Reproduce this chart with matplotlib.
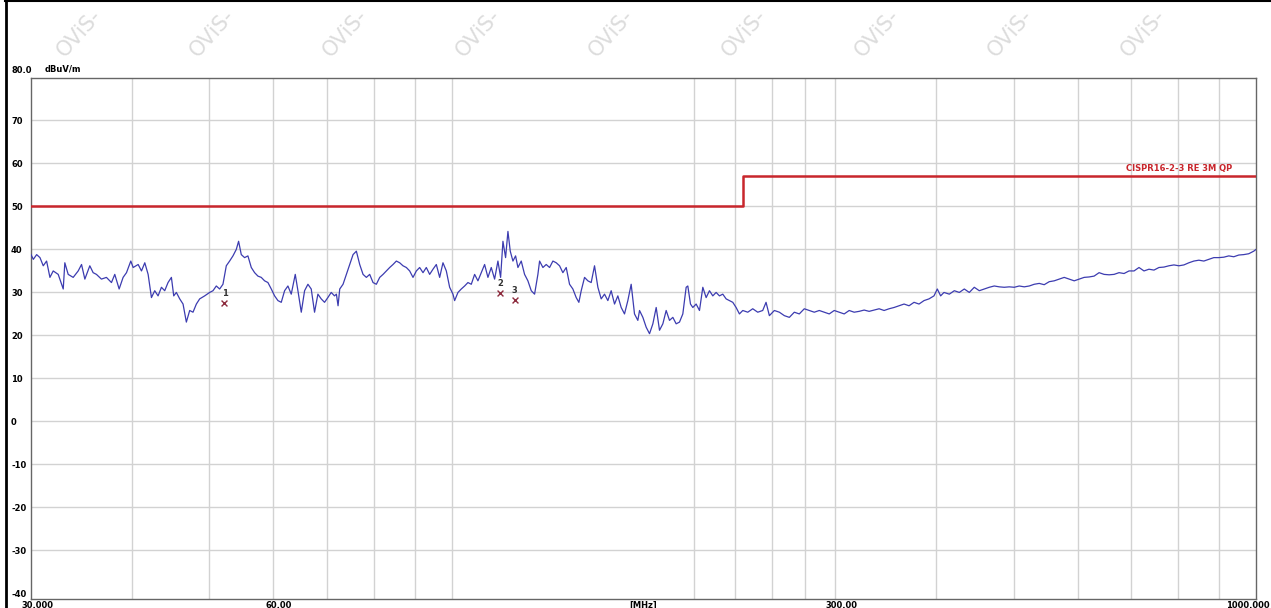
import numpy as np
import matplotlib.pyplot as plt
from matplotlib.lines import Line2D

freq_mhz = [
    30.0, 30.2, 30.49, 30.78, 31.07, 31.37, 31.67, 31.97, 32.43, 32.9,
    33.05, 33.37, 33.85, 34.34, 34.67, 35.0, 35.5, 35.84, 36.18, 36.7,
    37.23, 37.77, 38.13, 38.61, 39.05, 39.43, 39.92, 40.19, 40.77, 41.16,
    41.55, 41.95, 42.35, 42.75, 43.16, 43.58, 43.99, 44.41, 44.84, 45.14,
    45.48, 45.92, 46.36, 46.8, 47.25, 47.7, 48.16, 48.62, 49.32, 50.03,
    50.51, 50.99, 51.48, 51.97, 52.47, 52.97, 53.48, 53.99, 54.35, 54.77,
    55.29, 55.82, 56.36, 56.9, 57.44, 57.99, 58.55, 59.11, 59.68, 60.25,
    60.83, 61.41, 62.0, 62.59, 63.19, 63.92, 64.41, 65.03, 65.65, 66.28,
    66.91, 67.55, 68.2, 68.85, 69.51, 70.17, 70.85, 71.52,
    71.91, 72.25, 72.6, 73.29, 73.99, 74.7, 75.42, 76.14, 76.87, 77.61,
    78.35, 79.1, 79.86, 80.62, 81.4, 82.18, 82.96, 83.76, 84.56, 85.37,
    86.19, 87.01, 87.85, 88.69, 89.54, 90.4, 91.26, 92.14, 93.02, 93.91,
    94.81, 95.72, 96.64, 97.56, 98.5, 99.44, 100.39, 100.87, 101.84, 102.81,
    103.8, 104.79, 105.8, 106.81, 107.83, 108.87, 109.91, 110.96, 112.02, 113.1,
    114.18, 115.06, 115.83, 116.71, 117.5, 118.28, 119.19, 120.1, 120.91, 122.06,
    123.23, 124.41, 125.61, 126.81, 128.02, 128.64, 129.87, 131.11, 132.37, 133.64,
    134.92, 136.21, 137.51, 138.83, 140.16, 141.5, 142.86, 143.95, 144.92, 146.31,
    147.71, 149.12, 150.55, 152.0, 153.45, 154.92, 156.4, 157.9, 159.42, 160.94,
    162.49, 164.04, 165.61, 167.2, 168.8, 170.42,
    171.25, 172.89, 174.55, 176.22, 177.91, 179.61, 181.33, 183.07, 184.82, 186.59,
    188.38, 190.18, 192.0, 193.84, 195.7, 196.63, 198.14, 199.47, 201.38, 203.31,
    205.26, 207.22, 209.2, 211.21, 213.23, 215.27, 217.33, 219.42, 221.52, 223.64,
    225.78, 227.94, 230.13, 233.44, 236.79, 240.2, 243.65, 245.98, 248.34, 251.91,
    255.54, 259.21, 262.94, 266.72, 270.55, 274.44, 278.39, 282.4, 286.46, 290.58,
    294.76, 299.0, 303.29, 307.66, 312.08, 316.57, 321.12, 325.74, 330.42, 335.18,
    340.0, 344.88, 349.84, 354.87, 359.98, 365.15, 370.4, 375.73, 381.13, 386.61,
    392.17, 397.81, 401.62, 405.46, 409.34,
    415.66, 421.64, 427.72, 433.88, 440.13, 446.46, 452.91, 459.41, 466.04, 472.75,
    479.57, 486.46, 493.48, 500.57, 507.79, 515.09, 522.53, 530.03, 537.69, 545.4,
    553.29, 561.24, 569.34, 577.54, 585.85, 594.3, 602.76, 611.42, 620.22, 629.14,
    638.18, 647.36, 656.67, 666.11, 675.69, 685.41, 695.27, 705.27, 715.41, 725.7,
    736.13, 746.72, 757.46, 768.35, 779.4, 790.61, 801.98, 813.51, 825.21, 837.08,
    849.11, 861.33, 873.71, 886.28, 899.02, 911.95, 925.06, 938.37, 951.86, 965.54,
    979.45, 993.53, 1000.0,
]
level_dbuv = [
    38.8, 37.7, 38.8, 38.1, 36.2, 37.3, 33.5, 35.0, 34.2, 30.8,
    36.9, 34.2, 33.5, 35.0, 36.5, 33.1, 36.2, 34.6, 34.2, 33.1,
    33.5, 32.3, 34.2, 30.8, 33.5, 34.6, 37.3, 35.8, 36.5, 35.0,
    36.9, 34.2, 28.8, 30.4, 29.2, 31.2, 30.4, 32.3, 33.5, 29.2,
    30.0, 28.5, 27.3, 23.1, 25.8, 25.4, 27.3, 28.5, 29.2, 30.0,
    30.4, 31.5, 30.8, 31.9, 36.2, 37.3, 38.5, 40.0, 41.9, 38.8,
    38.1, 38.5, 35.8, 34.6, 33.8, 33.5, 32.7, 32.3, 30.8, 29.2,
    28.1, 27.7, 30.4, 31.5, 29.6, 34.2, 30.4, 25.4, 30.4, 31.9,
    30.8, 25.4, 29.6, 28.5, 27.7, 28.8, 30.0, 29.2,
    29.6, 26.9, 30.8, 31.9, 34.2, 36.5, 38.8, 39.6, 36.5, 34.2,
    33.5, 34.2, 32.3, 31.9, 33.5, 34.2, 35.0, 35.8, 36.5, 37.3,
    36.9, 36.2, 35.8, 35.0, 33.5, 35.0, 35.8, 34.6, 35.8, 34.2,
    35.4, 36.5, 33.5, 36.9, 35.0, 31.2, 29.6, 28.1, 30.0, 30.8,
    31.5, 32.3, 31.9, 34.2, 32.7, 34.6, 36.5, 33.5, 35.8, 33.1,
    37.3, 33.5, 41.9, 38.1, 44.2, 39.6, 37.3, 38.5, 35.8, 37.3,
    34.2, 32.7, 30.4, 29.6, 34.2, 37.3, 35.8, 36.5, 35.8, 37.3,
    36.9, 36.2, 34.6, 35.8, 31.9, 30.8, 28.8, 27.7, 30.4, 33.5,
    32.7, 32.3, 36.2, 31.2, 28.5, 29.6, 28.1, 30.4, 27.3, 29.2,
    26.5, 25.0, 28.1, 31.9, 25.0, 23.5,
    25.8, 24.2, 21.9, 20.4, 22.7, 26.5, 21.2, 22.7, 25.8, 23.5,
    24.2, 22.7, 23.1, 25.0, 31.2, 31.5, 27.3, 26.5, 27.3, 25.8,
    31.2, 28.8, 30.4, 29.2, 30.0, 29.2, 29.6, 28.5, 28.1, 27.7,
    26.5, 25.0, 25.8, 25.4, 26.2, 25.4, 25.8, 27.7, 24.6, 25.8,
    25.4, 24.6, 24.2, 25.4, 25.0, 26.2, 25.8, 25.4, 25.8, 25.4,
    25.0, 25.8, 25.4, 25.0, 25.8, 25.4, 25.6, 25.9, 25.6, 25.9,
    26.2, 25.8, 26.2, 26.5, 26.9, 27.3, 26.9, 27.7, 27.3, 28.1,
    28.5, 29.2, 30.8, 29.2, 30.0,
    29.6, 30.4, 30.0, 30.8, 30.0, 31.2, 30.4, 30.8, 31.2, 31.5,
    31.3, 31.2, 31.3, 31.2, 31.5, 31.3, 31.5, 31.9, 32.1, 31.8,
    32.5, 32.7, 33.1, 33.5, 33.1, 32.7, 33.1, 33.5, 33.6, 33.8,
    34.6, 34.2, 34.1, 34.2, 34.6, 34.4, 35.0, 35.0, 35.8, 35.0,
    35.4, 35.2, 35.8, 35.9, 36.2, 36.4, 36.2, 36.4, 36.9, 37.3,
    37.5, 37.3, 37.7, 38.1, 38.1, 38.2, 38.5, 38.3, 38.7, 38.8,
    39.0, 39.6, 40.0,
]

#limit line CISPR16-2-3 RE 3M QP
limit_freq = [30, 230, 230, 1000]
limit_level = [50, 50, 57, 57]
limit_name = "CISPR16-2-3 RE 3M QP"

#peak markers
marker_ids = ["1", "2", "3"]
marker_freq = [52.2, 115.0, 119.8]
marker_level = [27.6, 29.9, 28.2]

#axis ticks
x_ticks = [30, 60, 300]
x_tick_labels = ["30.000", "60.00", "300.00"]
x_end_label = "1000.000"
x_grid = [40, 50, 60, 70, 80, 90, 100, 200, 225, 250, 275,
          300, 400, 500, 600, 700, 800, 900]
y_ticks = [-40, -30, -20, -10, 0, 10, 20, 30, 40, 50, 60, 70]

W, H = 1271, 608
font = dict(family=['Liberation Sans Narrow', 'DejaVu Sans'], size=6, weight='bold')

fig = plt.figure(figsize=(W / 100, H / 100), dpi=100)
fig.patch.set_facecolor('white')

#watermark along the top
for i in range(9):
    fig.text((65 + 133 * i) / W, 1 - 58 / H, "OViS-", rotation=48,
             rotation_mode='anchor', ha='left', va='baseline',
             fontsize=15, color='#dcdcdc', zorder=-1)

ax = fig.add_axes([31 / W, 1 - 598.5 / H, (1256 - 31) / W, (598.5 - 77.5) / H])
ax.set_xscale('log')
ax.set_xlim(30, 1000)
ax.set_ylim(-41.2, 80)

#grid
for f in x_grid:
    ax.axvline(f, color='#d2d2d2', lw=1, zorder=1)
for y in y_ticks[1:]:
    ax.axhline(y, color='#d2d2d2', lw=1, zorder=1)

#data
ax.plot(freq_mhz, level_dbuv, color='#3c3cb0', lw=0.9, zorder=3)
ax.plot(limit_freq, limit_level, color='#c8262c', lw=1.8, zorder=4)
ax.annotate(limit_name, xy=(0.981, 57), xycoords=ax.get_yaxis_transform(),
            xytext=(0, 3), textcoords='offset pixels', ha='right', va='bottom',
            color='#c8262c', **font)

ax.scatter(marker_freq, marker_level, marker='x', s=18, color='#8c2a3c',
           linewidths=1, zorder=5)
for mid, f, v in zip(marker_ids, marker_freq, marker_level):
    ax.annotate(mid, xy=(f, v), xytext=(0, 5), textcoords='offset pixels',
                ha='center', va='bottom', color='#333333', **font)

#ticks and labels
ax.set_xticks([])
ax.set_xticks([], minor=True)
ax.set_yticks(y_ticks)
ax.set_yticklabels([str(t) for t in y_ticks], ha='left', **font)
ax.tick_params(axis='y', length=0, pad=20 * 0.72)

for f, lab in zip(x_ticks, x_tick_labels):
    ax.annotate(lab, xy=(f, 0), xycoords=ax.get_xaxis_transform(),
                xytext=(6, -2), textcoords='offset pixels',
                ha='center', va='top', **font)
ax.annotate(x_end_label, xy=(1, 0), xycoords='axes fraction',
            xytext=(14, -2), textcoords='offset pixels', ha='right', va='top', **font)
ax.annotate("[MHz]", xy=(0.5, 0), xycoords='axes fraction', xytext=(0, -2),
            textcoords='offset pixels', ha='center', va='top', **font)
ax.annotate("80.0", xy=(0, 80), xycoords=ax.get_yaxis_transform(),
            xytext=(-20, 7), textcoords='offset pixels', ha='left', va='center', **font)
ax.annotate("dBuV/m", xy=(0, 80), xycoords=ax.get_yaxis_transform(),
            xytext=(14, 8), textcoords='offset pixels', ha='left', va='center', **font)

for s in ax.spines.values():
    s.set_color('#666666')
    s.set_linewidth(1)

#black frame of the screenshot
fig.add_artist(Line2D([6 / W, 6 / W], [0, 1], color='black', lw=2))
fig.add_artist(Line2D([5 / W, 1], [1 - 0.8 / H, 1 - 0.8 / H], color='black', lw=1.5))

fig.savefig('out.png', dpi=100)
